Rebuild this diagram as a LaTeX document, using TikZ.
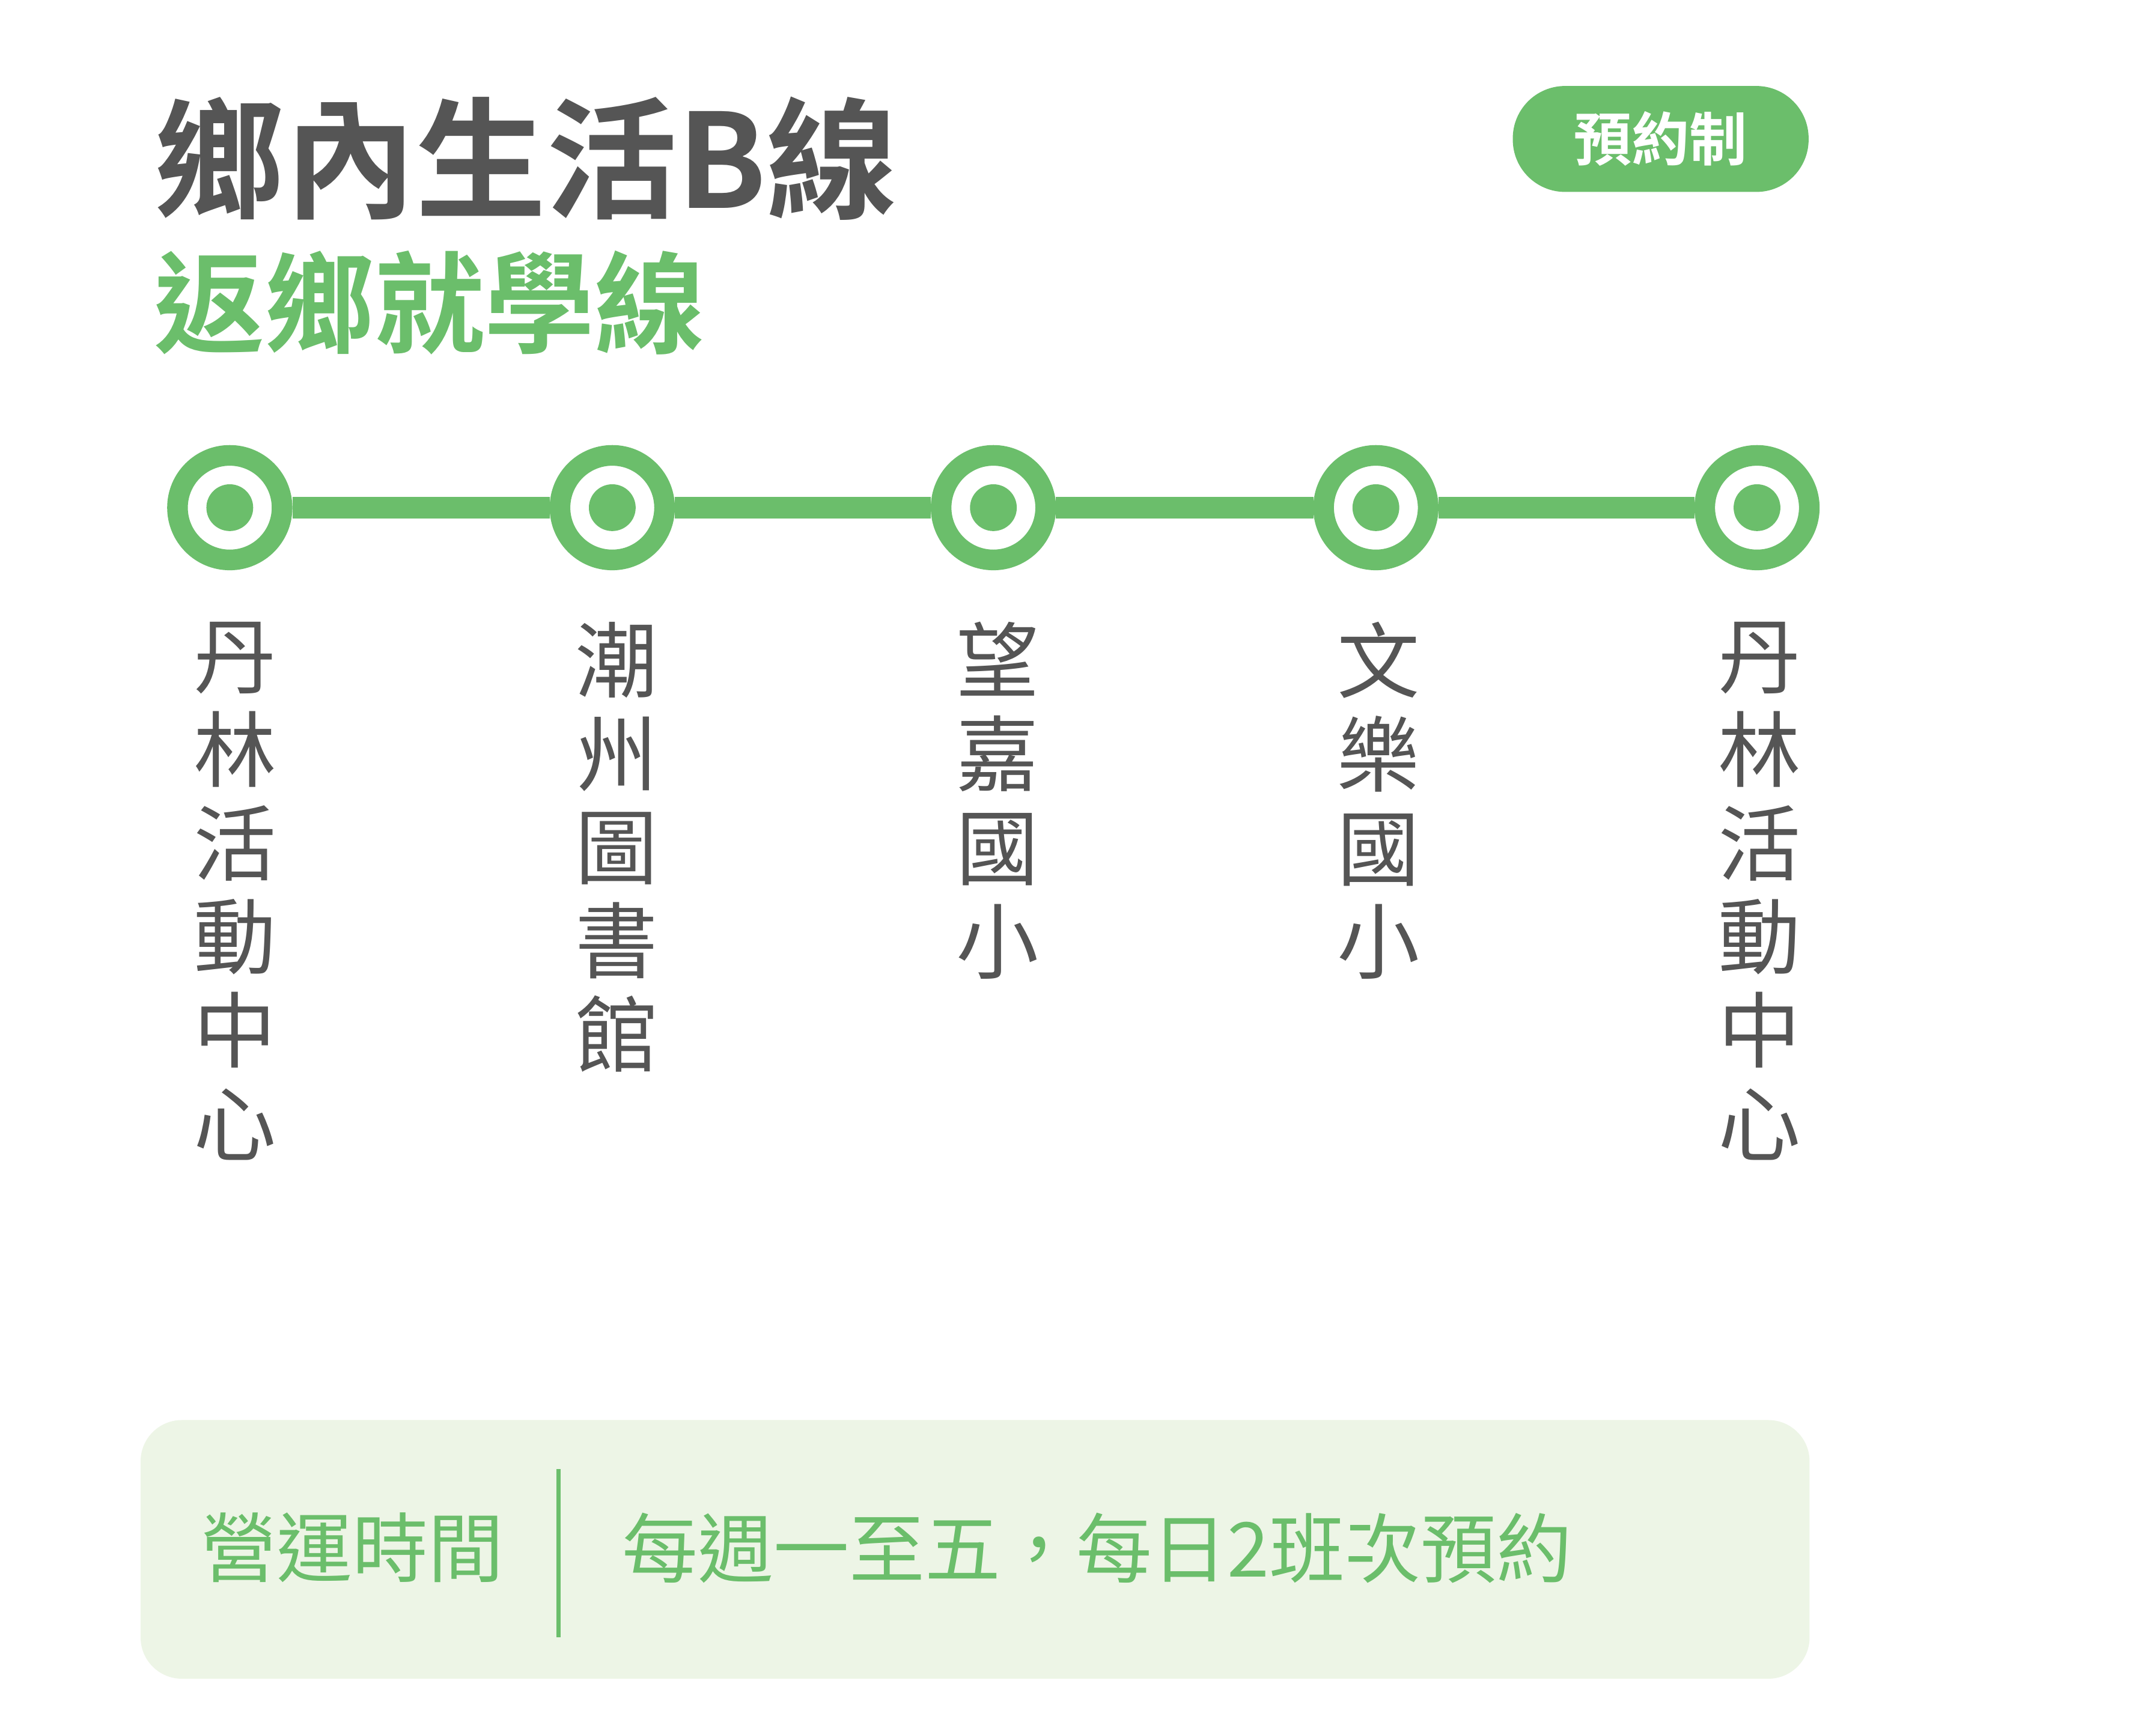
\documentclass[tikz,border=0pt]{standalone}
\usepackage{fontspec}
\newfontfamily\cjk{Noto Sans CJK TC}
\newfontfamily\cjkb{Noto Sans CJK TC Bold}
\definecolor{gr}{HTML}{6BBE6B}
\definecolor{dk}{HTML}{555555}
\definecolor{pale}{HTML}{EDF5E6}
\begin{document}
\begin{tikzpicture}[x=1pt,y=-1pt,
  stn/.style={circle,draw=gr,line width=15pt,fill=white,minimum size=76pt,inner sep=0},
  dot/.style={circle,fill=gr,minimum size=34pt,inner sep=0},
  lbl/.style={anchor=north,text=dk,font=\cjk\fontsize{60}{68}\selectfont,align=center,inner sep=0}]
\useasboundingbox[fill=white] (0,0) rectangle (1567,1253.6);
\node[anchor=west,text=dk,font=\cjkb\fontsize{95}{95}\selectfont,inner sep=0] (title) at (112,115) {鄉內生活B線};
\node[anchor=west,text=gr,font=\cjkb\fontsize{80}{80}\selectfont,inner sep=0] (sub) at (112,220) {返鄉就學線};
\node[fill=gr,rounded corners=38pt,minimum width=215pt,minimum height=77pt,text=white,font=\cjkb\fontsize{42}{42}\selectfont] (badge) at (1207,101) {預約制};
\foreach \i/\x in {1/167,2/445,3/722,4/1000,5/1277}{
  \node[stn] (s\i) at (\x,369) {};
}
\foreach \a/\b in {1/2,2/3,3/4,4/5}{
  \draw[gr,line width=16pt] (s\a) -- (s\b);
}
\foreach \i in {1,...,5}{ \node[dot] (d\i) at (s\i) {}; }
\node[lbl] (l1) at (171,452) {丹\\林\\活\\動\\中\\心};
\node[lbl] (l2) at (448,452) {潮\\州\\圖\\書\\館};
\node[lbl] (l3) at (725,452) {望\\嘉\\國\\小};
\node[lbl] (l4) at (1002,452) {文\\樂\\國\\小};
\node[lbl] (l5) at (1279,452) {丹\\林\\活\\動\\中\\心};
\node[fill=pale,rounded corners=30pt,minimum width=1213pt,minimum height=188pt,anchor=north west] (box) at (102,1032) {};
\coordinate (dv1) at (406,1068);
\coordinate (dv2) at (406,1190);
\draw[gr,line width=3pt] (dv1) -- (dv2);
\node[anchor=west,text=gr,font=\cjk\fontsize{55}{55}\selectfont,inner sep=0] (t1) at (146,1125) {營運時間};
\node[anchor=west,text=gr,font=\cjk\fontsize{55}{55}\selectfont,inner sep=0] (t2) at (452,1125) {每週一至五，每日2班次預約};
\end{tikzpicture}
\end{document}
